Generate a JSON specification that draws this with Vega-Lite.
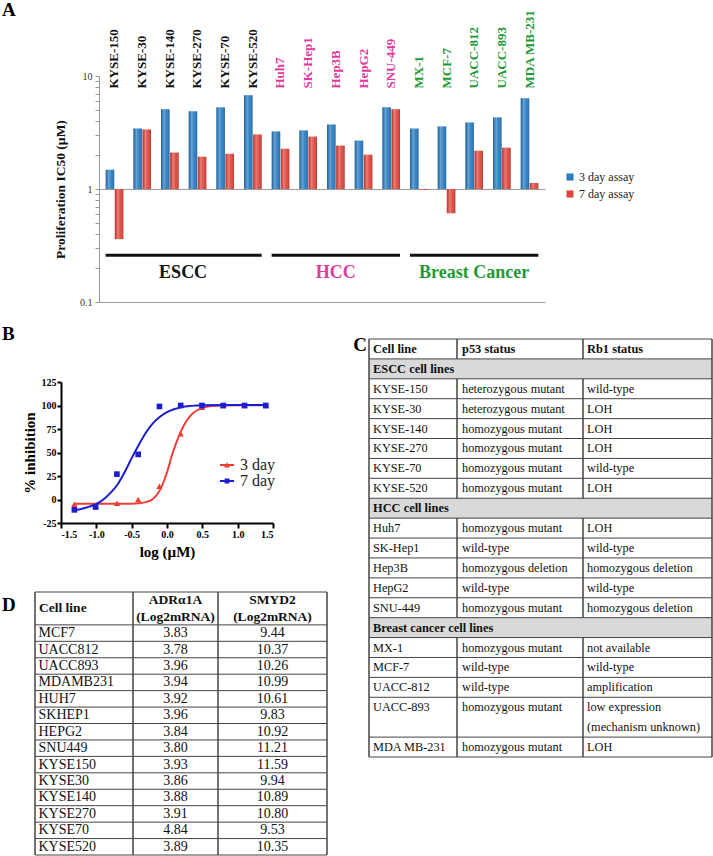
{
  "$schema": "https://vega.github.io/schema/vega-lite/v6.json",
  "background": "white",
  "width": 713,
  "height": 856,
  "autosize": {"type": "none"},
  "padding": 0,
  "config": {
    "font": "Liberation Serif",
    "view": {"stroke": null},
    "axis": {"labelFont": "Liberation Serif", "titleFont": "Liberation Serif", "grid": false},
    "legend": {"labelFont": "Liberation Serif", "titleFont": "Liberation Serif"},
    "text": {"font": "Liberation Serif"}
  },
  "resolve": {"scale": {"x": "independent", "y": "independent", "color": "independent"}},
  "datasets": {
    "ic50": [
      {"cell": "KYSE-150", "assay": "3 day assay", "ic50": 1.48}, {"cell": "KYSE-150", "assay": "7 day assay", "ic50": 0.36},
      {"cell": "KYSE-30", "assay": "3 day assay", "ic50": 3.43}, {"cell": "KYSE-30", "assay": "7 day assay", "ic50": 3.36},
      {"cell": "KYSE-140", "assay": "3 day assay", "ic50": 5.08}, {"cell": "KYSE-140", "assay": "7 day assay", "ic50": 2.10},
      {"cell": "KYSE-270", "assay": "3 day assay", "ic50": 4.87}, {"cell": "KYSE-270", "assay": "7 day assay", "ic50": 1.93},
      {"cell": "KYSE-70", "assay": "3 day assay", "ic50": 5.28}, {"cell": "KYSE-70", "assay": "7 day assay", "ic50": 2.05},
      {"cell": "KYSE-520", "assay": "3 day assay", "ic50": 6.76}, {"cell": "KYSE-520", "assay": "7 day assay", "ic50": 3.03},
      {"cell": "Huh7", "assay": "3 day assay", "ic50": 3.23}, {"cell": "Huh7", "assay": "7 day assay", "ic50": 2.27},
      {"cell": "SK-Hep1", "assay": "3 day assay", "ic50": 3.30}, {"cell": "SK-Hep1", "assay": "7 day assay", "ic50": 2.91},
      {"cell": "Hep3B", "assay": "3 day assay", "ic50": 3.72}, {"cell": "Hep3B", "assay": "7 day assay", "ic50": 2.42},
      {"cell": "HepG2", "assay": "3 day assay", "ic50": 2.68}, {"cell": "HepG2", "assay": "7 day assay", "ic50": 2.01},
      {"cell": "SNU-449", "assay": "3 day assay", "ic50": 5.28}, {"cell": "SNU-449", "assay": "7 day assay", "ic50": 5.08},
      {"cell": "MX-1", "assay": "3 day assay", "ic50": 3.43}, {"cell": "MX-1", "assay": "7 day assay", "ic50": 0.98},
      {"cell": "MCF-7", "assay": "3 day assay", "ic50": 3.58}, {"cell": "MCF-7", "assay": "7 day assay", "ic50": 0.61},
      {"cell": "UACC-812", "assay": "3 day assay", "ic50": 3.88}, {"cell": "UACC-812", "assay": "7 day assay", "ic50": 2.18},
      {"cell": "UACC-893", "assay": "3 day assay", "ic50": 4.30}, {"cell": "UACC-893", "assay": "7 day assay", "ic50": 2.32},
      {"cell": "MDA MB-231", "assay": "3 day assay", "ic50": 6.37}, {"cell": "MDA MB-231", "assay": "7 day assay", "ic50": 1.13}
    ],
    "groups": [
      {"group": "ESCC", "first": "KYSE-150", "last": "KYSE-520", "mid": "KYSE-140"},
      {"group": "HCC", "first": "Huh7", "last": "SNU-449", "mid": "Hep3B"},
      {"group": "Breast Cancer", "first": "MX-1", "last": "MDA MB-231", "mid": "UACC-812"}
    ],
    "points": [
      {"day": "3 day", "logc": -1.311, "pct": -5}, {"day": "3 day", "logc": -1.010, "pct": -7},
      {"day": "3 day", "logc": -0.709, "pct": -4}, {"day": "3 day", "logc": -0.408, "pct": 0},
      {"day": "3 day", "logc": -0.107, "pct": 14}, {"day": "3 day", "logc": 0.194, "pct": 70},
      {"day": "3 day", "logc": 0.495, "pct": 98}, {"day": "3 day", "logc": 0.796, "pct": 100},
      {"day": "3 day", "logc": 1.097, "pct": 100}, {"day": "3 day", "logc": 1.398, "pct": 100},
      {"day": "7 day", "logc": -1.311, "pct": -11}, {"day": "7 day", "logc": -1.010, "pct": -8},
      {"day": "7 day", "logc": -0.709, "pct": 27}, {"day": "7 day", "logc": -0.408, "pct": 48},
      {"day": "7 day", "logc": -0.107, "pct": 99}, {"day": "7 day", "logc": 0.194, "pct": 100},
      {"day": "7 day", "logc": 0.495, "pct": 100}, {"day": "7 day", "logc": 0.796, "pct": 100},
      {"day": "7 day", "logc": 1.097, "pct": 100}, {"day": "7 day", "logc": 1.398, "pct": 100}
    ],
    "curves": [
      {"day": "3 day", "logc": -1.311, "pct": -4.5}, {"day": "3 day", "logc": -0.8, "pct": -4.5},
      {"day": "3 day", "logc": -0.5, "pct": -4.4}, {"day": "3 day", "logc": -0.4, "pct": -4.0},
      {"day": "3 day", "logc": -0.3, "pct": -2.8}, {"day": "3 day", "logc": -0.2, "pct": 0.5},
      {"day": "3 day", "logc": -0.1, "pct": 10}, {"day": "3 day", "logc": 0.0, "pct": 29},
      {"day": "3 day", "logc": 0.07, "pct": 47}, {"day": "3 day", "logc": 0.14, "pct": 62},
      {"day": "3 day", "logc": 0.2, "pct": 73}, {"day": "3 day", "logc": 0.28, "pct": 84},
      {"day": "3 day", "logc": 0.37, "pct": 92}, {"day": "3 day", "logc": 0.5, "pct": 97.5},
      {"day": "3 day", "logc": 0.64, "pct": 99.4}, {"day": "3 day", "logc": 0.8, "pct": 100},
      {"day": "3 day", "logc": 1.1, "pct": 100.2}, {"day": "3 day", "logc": 1.398, "pct": 100.2},
      {"day": "7 day", "logc": -1.311, "pct": -11.5}, {"day": "7 day", "logc": -1.2, "pct": -9.8},
      {"day": "7 day", "logc": -1.1, "pct": -7.6}, {"day": "7 day", "logc": -1.0, "pct": -4.8},
      {"day": "7 day", "logc": -0.9, "pct": 0}, {"day": "7 day", "logc": -0.8, "pct": 7},
      {"day": "7 day", "logc": -0.7, "pct": 16}, {"day": "7 day", "logc": -0.6, "pct": 29},
      {"day": "7 day", "logc": -0.5, "pct": 44}, {"day": "7 day", "logc": -0.4, "pct": 58},
      {"day": "7 day", "logc": -0.3, "pct": 71}, {"day": "7 day", "logc": -0.2, "pct": 81},
      {"day": "7 day", "logc": -0.1, "pct": 88}, {"day": "7 day", "logc": 0.0, "pct": 93},
      {"day": "7 day", "logc": 0.1, "pct": 96}, {"day": "7 day", "logc": 0.2, "pct": 98.2},
      {"day": "7 day", "logc": 0.35, "pct": 99.6}, {"day": "7 day", "logc": 0.5, "pct": 100.2},
      {"day": "7 day", "logc": 0.8, "pct": 100.5}, {"day": "7 day", "logc": 1.1, "pct": 100.5},
      {"day": "7 day", "logc": 1.398, "pct": 100.5}
    ],
    "tableC": [
      {"r": 0, "kind": "header", "c1": "Cell line", "c2": "p53 status", "c3": "Rb1 status"},
      {"r": 1, "kind": "section", "c1": "ESCC cell lines", "c2": "", "c3": ""},
      {"r": 2, "kind": "data", "c1": "KYSE-150", "c2": "heterozygous mutant", "c3": "wild-type"},
      {"r": 3, "kind": "data", "c1": "KYSE-30", "c2": "heterozygous mutant", "c3": "LOH"},
      {"r": 4, "kind": "data", "c1": "KYSE-140", "c2": "homozygous mutant", "c3": "LOH"},
      {"r": 5, "kind": "data", "c1": "KYSE-270", "c2": "homozygous mutant", "c3": "LOH"},
      {"r": 6, "kind": "data", "c1": "KYSE-70", "c2": "homozygous mutant", "c3": "wild-type"},
      {"r": 7, "kind": "data", "c1": "KYSE-520", "c2": "homozygous mutant", "c3": "LOH"},
      {"r": 8, "kind": "section", "c1": "HCC cell lines", "c2": "", "c3": ""},
      {"r": 9, "kind": "data", "c1": "Huh7", "c2": "homozygous mutant", "c3": "LOH"},
      {"r": 10, "kind": "data", "c1": "SK-Hep1", "c2": "wild-type", "c3": "wild-type"},
      {"r": 11, "kind": "data", "c1": "Hep3B", "c2": "homozygous deletion", "c3": "homozygous deletion"},
      {"r": 12, "kind": "data", "c1": "HepG2", "c2": "wild-type", "c3": "wild-type"},
      {"r": 13, "kind": "data", "c1": "SNU-449", "c2": "homozygous mutant", "c3": "homozygous deletion"},
      {"r": 14, "kind": "section", "c1": "Breast cancer cell lines", "c2": "", "c3": ""},
      {"r": 15, "kind": "data", "c1": "MX-1", "c2": "homozygous mutant", "c3": "not available"},
      {"r": 16, "kind": "data", "c1": "MCF-7", "c2": "wild-type", "c3": "wild-type"},
      {"r": 17, "kind": "data", "c1": "UACC-812", "c2": "wild-type", "c3": "amplification"},
      {"r": 18, "kind": "data", "c1": "UACC-893", "c2": "homozygous mutant", "c3": "low expression"},
      {"r": 19, "kind": "cont", "c1": "", "c2": "", "c3": "(mechanism unknown)"},
      {"r": 20, "kind": "data", "c1": "MDA MB-231", "c2": "homozygous mutant", "c3": "LOH"}
    ],
    "tableD": [
      {"r": 0, "kind": "header", "c1": "Cell line", "c2": "ADRα1A", "c3": "SMYD2"},
      {"r": 1, "kind": "cont", "c1": "", "c2": "(Log2mRNA)", "c3": "(Log2mRNA)"},
      {"r": 2, "kind": "data", "cell": "MCF7", "adr": 3.83, "smyd2": 9.44},
      {"r": 3, "kind": "data", "cell": "UACC812", "adr": 3.78, "smyd2": 10.37},
      {"r": 4, "kind": "data", "cell": "UACC893", "adr": 3.96, "smyd2": 10.26},
      {"r": 5, "kind": "data", "cell": "MDAMB231", "adr": 3.94, "smyd2": 10.99},
      {"r": 6, "kind": "data", "cell": "HUH7", "adr": 3.92, "smyd2": 10.61},
      {"r": 7, "kind": "data", "cell": "SKHEP1", "adr": 3.96, "smyd2": 9.83},
      {"r": 8, "kind": "data", "cell": "HEPG2", "adr": 3.84, "smyd2": 10.92},
      {"r": 9, "kind": "data", "cell": "SNU449", "adr": 3.80, "smyd2": 11.21},
      {"r": 10, "kind": "data", "cell": "KYSE150", "adr": 3.93, "smyd2": 11.59},
      {"r": 11, "kind": "data", "cell": "KYSE30", "adr": 3.86, "smyd2": 9.94},
      {"r": 12, "kind": "data", "cell": "KYSE140", "adr": 3.88, "smyd2": 10.89},
      {"r": 13, "kind": "data", "cell": "KYSE270", "adr": 3.91, "smyd2": 10.80},
      {"r": 14, "kind": "data", "cell": "KYSE70", "adr": 4.84, "smyd2": 9.53},
      {"r": 15, "kind": "data", "cell": "KYSE520", "adr": 3.89, "smyd2": 10.35}
    ]
  },
  "layer": [
    {
      "layer": [
        {
          "data": {"name": "ic50"},
          "mark": {"type": "bar"},
          "encoding": {
            "x": {
              "field": "cell", "type": "nominal", "sort": null,
              "scale": {
                "domain": ["KYSE-150", "KYSE-30", "KYSE-140", "KYSE-270", "KYSE-70", "KYSE-520", "Huh7", "SK-Hep1", "Hep3B", "HepG2", "SNU-449", "MX-1", "MCF-7", "UACC-812", "UACC-893", "MDA MB-231"],
                "range": [99, 545], "paddingInner": 0.36, "paddingOuter": 0.24
              },
              "axis": {
                "orient": "top", "offset": -76, "title": null, "labelAngle": -90, "labelAlign": "left", "labelBaseline": "middle",
                "labelPadding": -12, "ticks": false, "tickSize": 0, "domain": false,
                "labelFont": "Liberation Serif", "labelFontWeight": "bold", "labelFontSize": 13, "labelLimit": 0, "labelOverlap": false,
                "labelColor": {
                  "condition": [
                    {"test": "indexof(['Huh7','SK-Hep1','Hep3B','HepG2','SNU-449'], datum.value) >= 0", "value": "#e2399f"},
                    {"test": "indexof(['MX-1','MCF-7','UACC-812','UACC-893','MDA MB-231'], datum.value) >= 0", "value": "#1d9a33"}
                  ],
                  "value": "#111111"
                }
              }
            },
            "xOffset": {"field": "assay", "type": "nominal", "scale": {"paddingInner": 0.06}},
            "y": {
              "field": "ic50", "type": "quantitative",
              "scale": {"type": "log", "domain": [0.1, 10], "range": [302, 76], "nice": false},
              "axis": {
                "orient": "left", "offset": -99,
                "title": "Proliferation IC50 (µM)", "titleFont": "Liberation Serif", "titleFontSize": 13.5, "titleFontWeight": "bold", "titleColor": "#111",
                "titlePadding": 12,
                "values": [0.1, 0.2, 0.3, 0.4, 0.5, 0.6, 0.7, 0.8, 0.9, 1, 2, 3, 4, 5, 6, 7, 8, 9, 10],
                "format": "~g",
                "labelExpr": "datum.value == 0.1 || datum.value == 1 || datum.value == 10 ? datum.label : ''",
                "labelOverlap": false, "tickSize": 4, "tickColor": "#999", "domainColor": "#999",
                "labelFont": "Liberation Serif", "labelFontSize": 10, "labelColor": "#333", "labelPadding": 3,
                "grid": true, "gridColor": "#9a9a9a",
                "gridOpacity": {"condition": {"test": "datum.value == 1 || datum.value == 0.1", "value": 1}, "value": 0}
              }
            },
            "y2": {"datum": 1},
            "color": {
              "field": "assay", "type": "nominal",
              "scale": {"domain": ["3 day assay", "7 day assay"], "range": ["#2a7cc2", "#e0473c"]},
              "legend": {
                "title": null, "orient": "none", "legendX": 564, "legendY": 171,
                "symbolType": "square", "symbolSize": 50, "labelFont": "Liberation Serif", "labelFontSize": 12, "labelColor": "#222",
                "rowPadding": 5, "labelOffset": 3
              }
            }
          }
        },
        {
          "data": {"name": "ic50"},
          "mark": {
            "type": "bar",
            "fill": {
              "gradient": "linear", "x1": 0, "y1": 0, "x2": 1, "y2": 0,
              "stops": [
                {"offset": 0, "color": "rgba(0,0,0,0.16)"},
                {"offset": 0.35, "color": "rgba(255,255,255,0.30)"},
                {"offset": 0.65, "color": "rgba(255,255,255,0.05)"},
                {"offset": 1, "color": "rgba(0,0,0,0.22)"}
              ]
            }
          },
          "encoding": {
            "x": {"field": "cell", "type": "nominal", "sort": null},
            "xOffset": {"field": "assay", "type": "nominal"},
            "y": {"field": "ic50", "type": "quantitative"},
            "y2": {"datum": 1}
          }
        },
        {
          "data": {"name": "groups"},
          "mark": {"type": "rule", "color": "#111", "strokeWidth": 3},
          "encoding": {
            "x": {"field": "first", "type": "nominal", "bandPosition": 0},
            "x2": {"field": "last", "bandPosition": 1},
            "y": {"datum": 0.259}
          }
        },
        {
          "data": {"name": "groups"},
          "transform": [{"filter": "datum.group == 'ESCC'"}],
          "mark": {"type": "text", "font": "Liberation Serif", "fontSize": 18, "fontWeight": "bold", "color": "#111", "baseline": "middle"},
          "encoding": {
            "x": {"field": "mid", "type": "nominal", "bandPosition": 1.25},
            "y": {"datum": 0.182},
            "text": {"field": "group"}
          }
        },
        {
          "data": {"name": "groups"},
          "transform": [{"filter": "datum.group == 'HCC'"}],
          "mark": {"type": "text", "font": "Liberation Serif", "fontSize": 18, "fontWeight": "bold", "color": "#e2399f", "baseline": "middle"},
          "encoding": {
            "x": {"field": "mid", "type": "nominal"},
            "y": {"datum": 0.182},
            "text": {"field": "group"}
          }
        },
        {
          "data": {"name": "groups"},
          "transform": [{"filter": "datum.group == 'Breast Cancer'"}],
          "mark": {"type": "text", "font": "Liberation Serif", "fontSize": 18, "fontWeight": "bold", "color": "#1d9a33", "baseline": "middle"},
          "encoding": {
            "x": {"field": "mid", "type": "nominal"},
            "y": {"datum": 0.182},
            "text": {"field": "group"}
          }
        }
      ]
    },
    {
      "layer": [
        {
          "data": {"name": "curves"},
          "mark": {"type": "line", "interpolate": "monotone", "strokeWidth": 2},
          "encoding": {
            "x": {
              "field": "logc", "type": "quantitative", "scale": {"domain": [-1.5, 1.5], "range": [61, 273], "nice": false, "zero": false},
              "axis": {
                "orient": "bottom", "offset": -333,
                "title": "log (µM)", "titleFont": "Liberation Serif", "titleFontSize": 15, "titleFontWeight": "bold", "titleColor": "#000", "titlePadding": 5,
                "values": [-1.5, -1, -0.5, 0, 0.5, 1, 1.5],
                "labelExpr": "replace(format(datum.value, '.1f'), '−', '-')",
                "labelFont": "Liberation Serif", "labelFontSize": 10, "labelFontWeight": "bold", "labelColor": "#000", "labelPadding": 1,
                "domainColor": "#000", "domainWidth": 2, "tickColor": "#000", "tickWidth": 2, "tickSize": 5
              }
            },
            "y": {
              "field": "pct", "type": "quantitative", "scale": {"domain": [-25, 125], "range": [523, 382], "nice": false, "zero": false},
              "axis": {
                "orient": "left", "offset": -61,
                "title": "% inhibition", "titleFont": "Liberation Serif", "titleFontSize": 15, "titleFontWeight": "bold", "titleColor": "#000", "titlePadding": 4,
                "values": [-25, 0, 25, 50, 75, 100, 125],
                "labelExpr": "replace(format(datum.value, 'd'), '−', '-')",
                "labelFont": "Liberation Serif", "labelFontSize": 10, "labelFontWeight": "bold", "labelColor": "#000", "labelPadding": 1,
                "domainColor": "#000", "domainWidth": 2, "tickColor": "#000", "tickWidth": 2, "tickSize": 4
              }
            },
            "color": {
              "field": "day", "type": "nominal",
              "scale": {"domain": ["3 day", "7 day"], "range": ["#ee3e36", "#1c1cd0"]},
              "legend": {
                "title": null, "orient": "none", "legendX": 219, "legendY": 457,
                "labelFont": "Liberation Serif", "labelFontSize": 16, "labelColor": "#222", "symbolSize": 200, "rowPadding": -4, "labelOffset": 5,
                "encode": {
                  "symbols": {
                    "update": {
                      "shape": {"signal": "datum.value == '3 day' ? 'M-1,-0.14H1V0.14H-1Z M-0.42,0.36L0,-0.4L0.42,0.36Z' : 'M-1,-0.14H1V0.14H-1Z M-0.34,-0.34H0.34V0.34H-0.34Z'"},
                      "fill": {"signal": "datum.value == '3 day' ? '#ee3e36' : '#1c1cd0'"},
                      "stroke": {"value": "transparent"},
                      "strokeWidth": {"value": 0}
                    }
                  }
                }
              }
            }
          }
        },
        {
          "data": {"name": "points"},
          "transform": [{"filter": "datum.day == '3 day'"}],
          "mark": {"type": "point", "filled": true, "opacity": 1, "size": 40, "shape": "triangle-up"},
          "encoding": {
            "x": {"field": "logc", "type": "quantitative", "scale": {"domain": [-1.5, 1.5], "range": [61, 273], "nice": false, "zero": false}},
            "y": {"field": "pct", "type": "quantitative", "scale": {"domain": [-25, 125], "range": [523, 382], "nice": false, "zero": false}},
            "color": {"field": "day", "type": "nominal"}
          }
        },
        {
          "data": {"name": "points"},
          "transform": [{"filter": "datum.day == '7 day'"}],
          "mark": {"type": "point", "filled": true, "opacity": 1, "size": 32, "shape": "square"},
          "encoding": {
            "x": {"field": "logc", "type": "quantitative", "scale": {"domain": [-1.5, 1.5], "range": [61, 273], "nice": false, "zero": false}},
            "y": {"field": "pct", "type": "quantitative", "scale": {"domain": [-25, 125], "range": [523, 382], "nice": false, "zero": false}},
            "color": {"field": "day", "type": "nominal"}
          }
        },
        {
          "data": {"values": [{}]},
          "mark": {"type": "text", "text": "A", "font": "Liberation Serif", "fontSize": 19, "fontWeight": "bold", "color": "#000", "align": "left", "baseline": "middle"},
          "encoding": {
            "x": {"datum": -2.335, "type": "quantitative", "scale": {"domain": [-1.5, 1.5], "range": [61, 273], "nice": false, "zero": false}},
            "y": {"datum": 520.7, "type": "quantitative", "scale": {"domain": [-25, 125], "range": [523, 382], "nice": false, "zero": false}}
          }
        },
        {
          "data": {"values": [{}]},
          "mark": {"type": "text", "text": "B", "font": "Liberation Serif", "fontSize": 19, "fontWeight": "bold", "color": "#000", "align": "left", "baseline": "middle"},
          "encoding": {
            "x": {"datum": -2.335, "type": "quantitative", "scale": {"domain": [-1.5, 1.5], "range": [61, 273], "nice": false, "zero": false}},
            "y": {"datum": 176.1, "type": "quantitative", "scale": {"domain": [-25, 125], "range": [523, 382], "nice": false, "zero": false}}
          }
        }
      ]
    },
    {
      "data": {"name": "tableC"},
      "layer": [
        {
          "transform": [{"filter": "datum.kind == 'section'"}],
          "mark": {"type": "rect", "fill": "#d9d9d9"},
          "encoding": {
            "y": {"field": "r", "type": "ordinal", "scale": {"range": [339, 757], "paddingInner": 0, "paddingOuter": 0}, "axis": null},
            "x": {"datum": 0, "type": "quantitative", "scale": {"domain": [0, 1, 2, 3], "range": [369, 457, 583, 712], "nice": false, "zero": false}, "axis": null},
            "x2": {"datum": 3}
          }
        },
        {
          "mark": {"type": "rect", "fill": "#444", "stroke": "#444", "strokeWidth": 1},
          "encoding": {"y": {"field": "r", "type": "ordinal"}, "x": {"datum": 0, "type": "quantitative"}, "x2": {"datum": 0}}
        },
        {
          "mark": {"type": "rect", "fill": "#444", "stroke": "#444", "strokeWidth": 1},
          "encoding": {"y": {"field": "r", "type": "ordinal"}, "x": {"datum": 3, "type": "quantitative"}, "x2": {"datum": 3}}
        },
        {
          "transform": [{"filter": "datum.kind != 'section'"}],
          "mark": {"type": "rect", "fill": "#444", "stroke": "#444", "strokeWidth": 1},
          "encoding": {"y": {"field": "r", "type": "ordinal"}, "x": {"datum": 1, "type": "quantitative"}, "x2": {"datum": 1}}
        },
        {
          "transform": [{"filter": "datum.kind != 'section'"}],
          "mark": {"type": "rect", "fill": "#444", "stroke": "#444", "strokeWidth": 1},
          "encoding": {"y": {"field": "r", "type": "ordinal"}, "x": {"datum": 2, "type": "quantitative"}, "x2": {"datum": 2}}
        },
        {
          "transform": [{"filter": "datum.kind != 'cont'"}],
          "mark": {"type": "rule", "color": "#444"},
          "encoding": {"y": {"field": "r", "type": "ordinal", "bandPosition": 0}, "x": {"datum": 0, "type": "quantitative"}, "x2": {"datum": 3}}
        },
        {
          "transform": [{"filter": "datum.r == 20"}],
          "mark": {"type": "rule", "color": "#444"},
          "encoding": {"y": {"field": "r", "type": "ordinal", "bandPosition": 1}, "x": {"datum": 0, "type": "quantitative"}, "x2": {"datum": 3}}
        },
        {
          "transform": [{"filter": "datum.kind == 'header' || datum.kind == 'section'"}],
          "mark": {"type": "text", "align": "left", "baseline": "middle", "dx": 4, "font": "Liberation Serif", "fontSize": 12.4, "fontWeight": "bold", "color": "#111"},
          "encoding": {"y": {"field": "r", "type": "ordinal"}, "x": {"datum": 0, "type": "quantitative"}, "text": {"field": "c1"}}
        },
        {
          "transform": [{"filter": "datum.kind == 'header'"}],
          "mark": {"type": "text", "align": "left", "baseline": "middle", "dx": 5, "font": "Liberation Serif", "fontSize": 12.4, "fontWeight": "bold", "color": "#111"},
          "encoding": {"y": {"field": "r", "type": "ordinal"}, "x": {"datum": 1, "type": "quantitative"}, "text": {"field": "c2"}}
        },
        {
          "transform": [{"filter": "datum.kind == 'header'"}],
          "mark": {"type": "text", "align": "left", "baseline": "middle", "dx": 4, "font": "Liberation Serif", "fontSize": 12.4, "fontWeight": "bold", "color": "#111"},
          "encoding": {"y": {"field": "r", "type": "ordinal"}, "x": {"datum": 2, "type": "quantitative"}, "text": {"field": "c3"}}
        },
        {
          "transform": [{"filter": "datum.kind == 'data' || datum.kind == 'cont'"}],
          "mark": {"type": "text", "align": "left", "baseline": "middle", "dx": 4, "font": "Liberation Serif", "fontSize": 12.3, "color": "#111"},
          "encoding": {"y": {"field": "r", "type": "ordinal"}, "x": {"datum": 0, "type": "quantitative"}, "text": {"field": "c1"}}
        },
        {
          "transform": [{"filter": "datum.kind == 'data' || datum.kind == 'cont'"}],
          "mark": {"type": "text", "align": "left", "baseline": "middle", "dx": 5, "font": "Liberation Serif", "fontSize": 12.3, "color": "#111"},
          "encoding": {"y": {"field": "r", "type": "ordinal"}, "x": {"datum": 1, "type": "quantitative"}, "text": {"field": "c2"}}
        },
        {
          "transform": [{"filter": "datum.kind == 'data' || datum.kind == 'cont'"}],
          "mark": {"type": "text", "align": "left", "baseline": "middle", "dx": 4, "font": "Liberation Serif", "fontSize": 12.3, "color": "#111"},
          "encoding": {"y": {"field": "r", "type": "ordinal"}, "x": {"datum": 2, "type": "quantitative"}, "text": {"field": "c3"}}
        },
        {
          "transform": [{"filter": "datum.r == 0"}],
          "mark": {"type": "text", "text": "C", "align": "left", "baseline": "middle", "font": "Liberation Serif", "fontSize": 19, "fontWeight": "bold", "color": "#000"},
          "encoding": {"y": {"field": "r", "type": "ordinal", "bandPosition": 0.3}, "x": {"datum": -0.18, "type": "quantitative"}}
        }
      ]
    },
    {
      "data": {"name": "tableD"},
      "layer": [
        {
          "mark": {"type": "rect", "fill": "#444", "stroke": "#444", "strokeWidth": 1},
          "encoding": {
            "y": {"field": "r", "type": "ordinal", "scale": {"range": [592, 855], "paddingInner": 0, "paddingOuter": 0}, "axis": null},
            "x": {"datum": 0, "type": "quantitative", "scale": {"domain": [0, 1, 2, 3], "range": [35, 133, 218, 327], "nice": false, "zero": false}, "axis": null},
            "x2": {"datum": 0}
          }
        },
        {
          "mark": {"type": "rect", "fill": "#444", "stroke": "#444", "strokeWidth": 1},
          "encoding": {"y": {"field": "r", "type": "ordinal"}, "x": {"datum": 1, "type": "quantitative"}, "x2": {"datum": 1}}
        },
        {
          "mark": {"type": "rect", "fill": "#444", "stroke": "#444", "strokeWidth": 1},
          "encoding": {"y": {"field": "r", "type": "ordinal"}, "x": {"datum": 2, "type": "quantitative"}, "x2": {"datum": 2}}
        },
        {
          "mark": {"type": "rect", "fill": "#444", "stroke": "#444", "strokeWidth": 1},
          "encoding": {"y": {"field": "r", "type": "ordinal"}, "x": {"datum": 3, "type": "quantitative"}, "x2": {"datum": 3}}
        },
        {
          "transform": [{"filter": "datum.kind != 'cont'"}],
          "mark": {"type": "rule", "color": "#444"},
          "encoding": {"y": {"field": "r", "type": "ordinal", "bandPosition": 0}, "x": {"datum": 0, "type": "quantitative"}, "x2": {"datum": 3}}
        },
        {
          "transform": [{"filter": "datum.r == 15"}],
          "mark": {"type": "rule", "color": "#444"},
          "encoding": {"y": {"field": "r", "type": "ordinal", "bandPosition": 1}, "x": {"datum": 0, "type": "quantitative"}, "x2": {"datum": 3}}
        },
        {
          "transform": [{"filter": "datum.kind == 'header'"}],
          "mark": {"type": "text", "align": "left", "baseline": "middle", "dx": 4, "font": "Liberation Serif", "fontSize": 13.5, "fontWeight": "bold", "color": "#111"},
          "encoding": {"y": {"field": "r", "type": "ordinal", "bandPosition": 1}, "x": {"datum": 0, "type": "quantitative"}, "text": {"field": "c1"}}
        },
        {
          "transform": [{"filter": "datum.kind != 'data'"}],
          "mark": {"type": "text", "align": "center", "baseline": "middle", "font": "Liberation Serif", "fontSize": 13.5, "fontWeight": "bold", "color": "#111"},
          "encoding": {"y": {"field": "r", "type": "ordinal"}, "x": {"datum": 1.5, "type": "quantitative"}, "text": {"field": "c2"}}
        },
        {
          "transform": [{"filter": "datum.kind != 'data'"}],
          "mark": {"type": "text", "align": "center", "baseline": "middle", "font": "Liberation Serif", "fontSize": 13.5, "fontWeight": "bold", "color": "#111"},
          "encoding": {"y": {"field": "r", "type": "ordinal"}, "x": {"datum": 2.5, "type": "quantitative"}, "text": {"field": "c3"}}
        },
        {
          "transform": [{"filter": "datum.kind == 'data'"}],
          "mark": {"type": "text", "align": "left", "baseline": "middle", "dx": 3.5, "font": "Liberation Serif", "fontSize": 14, "color": "#111"},
          "encoding": {"y": {"field": "r", "type": "ordinal"}, "x": {"datum": 0, "type": "quantitative"}, "text": {"field": "cell"}}
        },
        {
          "transform": [{"filter": "datum.kind == 'data'"}],
          "mark": {"type": "text", "align": "center", "baseline": "middle", "font": "Liberation Serif", "fontSize": 14, "color": "#111"},
          "encoding": {"y": {"field": "r", "type": "ordinal"}, "x": {"datum": 1.5, "type": "quantitative"}, "text": {"field": "adr", "type": "quantitative", "format": ".2f"}}
        },
        {
          "transform": [{"filter": "datum.kind == 'data'"}],
          "mark": {"type": "text", "align": "center", "baseline": "middle", "font": "Liberation Serif", "fontSize": 14, "color": "#111"},
          "encoding": {"y": {"field": "r", "type": "ordinal"}, "x": {"datum": 2.5, "type": "quantitative"}, "text": {"field": "smyd2", "type": "quantitative", "format": ".2f"}}
        },
        {
          "transform": [{"filter": "datum.r == 0"}],
          "mark": {"type": "text", "text": "D", "align": "left", "baseline": "middle", "font": "Liberation Serif", "fontSize": 19, "fontWeight": "bold", "color": "#000"},
          "encoding": {"y": {"field": "r", "type": "ordinal", "bandPosition": 0.8}, "x": {"datum": -0.337, "type": "quantitative"}}
        }
      ]
    }
  ]
}
